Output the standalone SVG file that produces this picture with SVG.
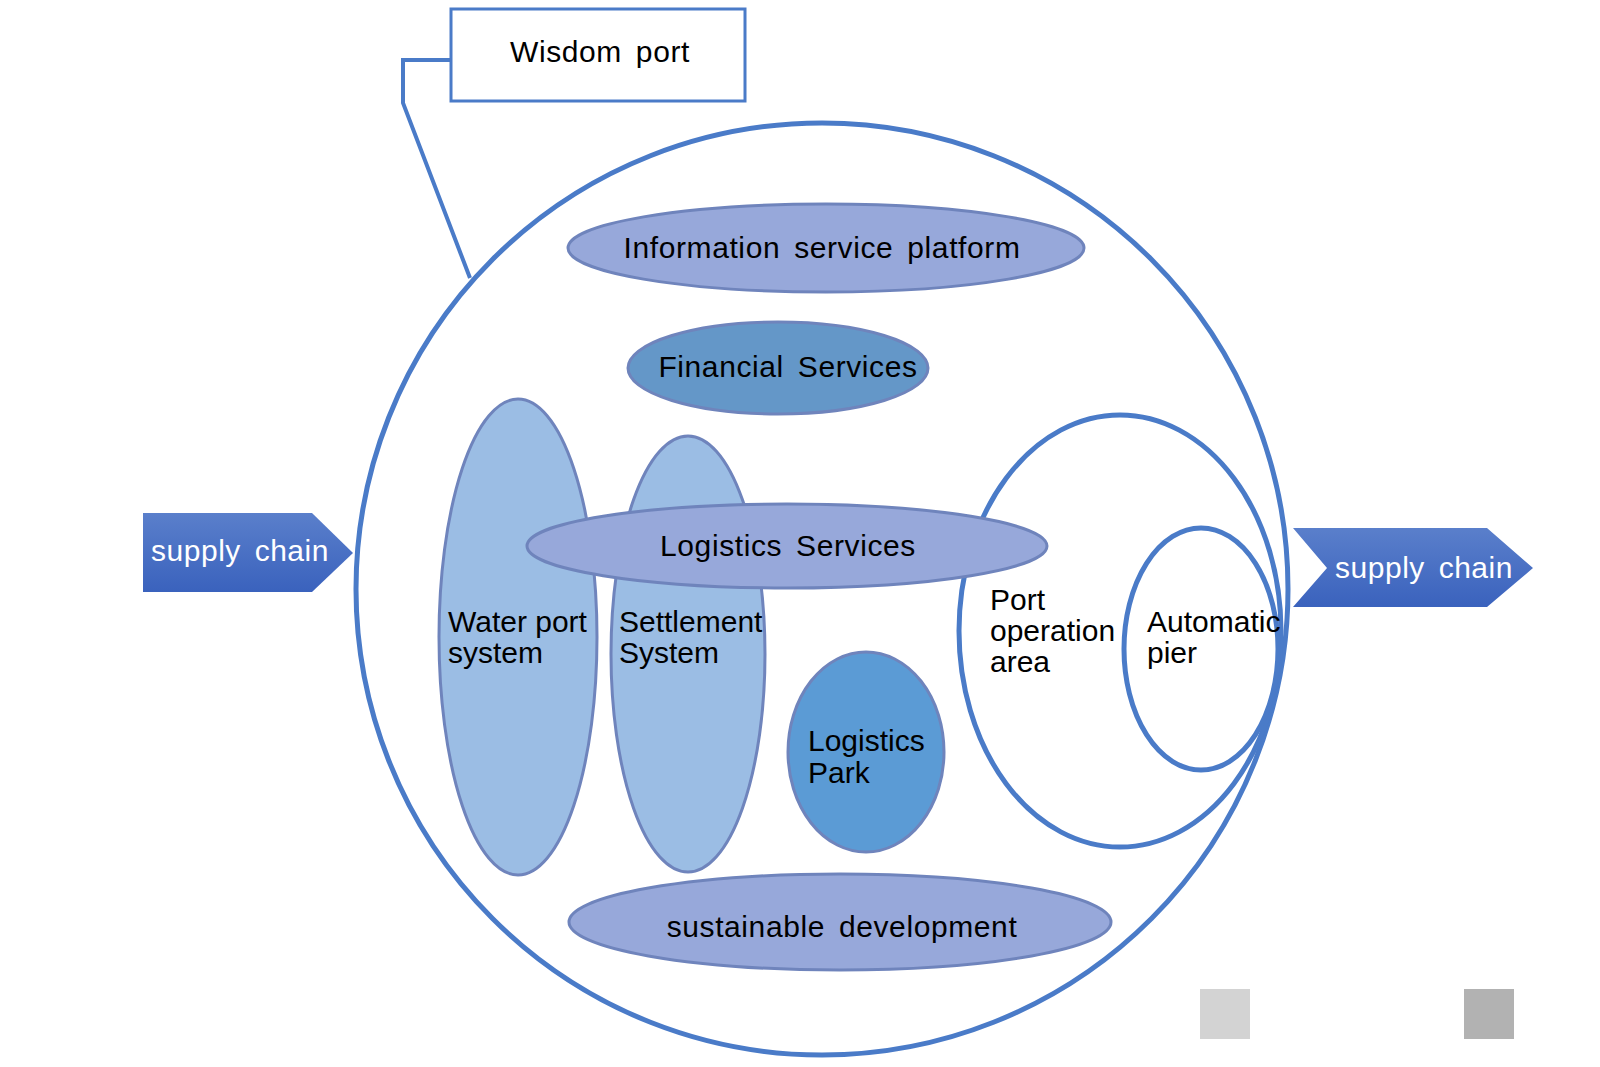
<svg xmlns="http://www.w3.org/2000/svg" width="1600" height="1067" viewBox="0 0 1600 1067">
<defs>
<linearGradient id="arrowGrad" x1="0" y1="0" x2="0" y2="1">
<stop offset="0" stop-color="#5A7FCB"/>
<stop offset="1" stop-color="#3A62BD"/>
</linearGradient>
<style>
.t{font-family:"Liberation Sans",Arial,sans-serif;font-size:30px;fill:#000}
.sp{letter-spacing:0.6px;word-spacing:5px}
.tw{font-family:"Liberation Sans",Arial,sans-serif;font-size:30px;fill:#fff;letter-spacing:0.5px;word-spacing:5px}
.big{fill:#fff;stroke:#4A7BC8;stroke-width:5}
.ring{fill:none;stroke:#4A7BC8;stroke-width:5}
.lav{fill:#97A8DA;stroke:#6F84BC;stroke-width:3}
.lb{fill:#9BBDE4;stroke:#6F84BC;stroke-width:3}
.fin{fill:#6497C8;stroke:#6F84BC;stroke-width:3}
.park{fill:#5B9BD5;stroke:#6F84BC;stroke-width:3}
.arrow{fill:url(#arrowGrad)}
</style>
</defs>
<rect width="1600" height="1067" fill="#fff"/>
<g id="connectors">
<polyline points="450,60 403,60 403,103 470,278" fill="none" stroke="#4A7BC8" stroke-width="4"/>
</g>
<g id="wisdom-port">
<rect x="451" y="9" width="294" height="92" fill="#fff" stroke="#4A7BC8" stroke-width="3"/>
<text class="t sp" x="600" y="62" text-anchor="middle">Wisdom port</text>
</g>
<g id="port-circle">
<circle class="big" cx="822" cy="589" r="466"/>
</g>
<g id="info-platform">
<ellipse class="lav" cx="826" cy="248" rx="258" ry="44"/>
<text class="t sp" x="822" y="258" text-anchor="middle">Information service platform</text>
</g>
<g id="financial">
<ellipse class="fin" cx="778" cy="368" rx="150" ry="46"/>
<text class="t sp" x="788" y="377" text-anchor="middle">Financial Services</text>
</g>
<g id="water-port">
<ellipse class="lb" cx="518" cy="637" rx="79" ry="238"/>
<text class="t" x="448" y="632">Water port</text>
<text class="t" x="448" y="663">system</text>
</g>
<g id="settlement">
<ellipse class="lb" cx="688" cy="654" rx="77" ry="218"/>
<text class="t" x="619" y="632">Settlement</text>
<text class="t" x="619" y="663">System</text>
</g>
<g id="port-operation">
<ellipse class="ring" cx="1120" cy="631" rx="161" ry="216"/>
<text class="t" x="990" y="610">Port</text>
<text class="t" x="990" y="641">operation</text>
<text class="t" x="990" y="672">area</text>
</g>
<g id="automatic-pier">
<ellipse class="ring" cx="1201" cy="649" rx="77" ry="121"/>
<text class="t" x="1147" y="632">Automatic</text>
<text class="t" x="1147" y="663">pier</text>
</g>
<g id="logistics-services">
<ellipse class="lav" cx="787" cy="546" rx="260" ry="42"/>
<text class="t sp" x="788" y="556" text-anchor="middle">Logistics Services</text>
</g>
<g id="logistics-park">
<ellipse class="park" cx="866" cy="752" rx="78" ry="100"/>
<text class="t" x="808" y="751">Logistics</text>
<text class="t" x="808" y="783">Park</text>
</g>
<g id="sustainable">
<ellipse class="lav" cx="840" cy="922" rx="271" ry="48"/>
<text class="t sp" x="842" y="937" text-anchor="middle">sustainable development</text>
</g>
<g id="supply-chain-left">
<polygon class="arrow" points="143,513 312,513 353,553 312,592 143,592"/>
<text class="tw" x="240" y="561" text-anchor="middle">supply chain</text>
</g>
<g id="supply-chain-right">
<polygon class="arrow" points="1293,528 1487,528 1533,568 1487,607 1293,607 1327,568"/>
<text class="tw" x="1424" y="578" text-anchor="middle">supply chain</text>
</g>
<g id="legend">
<rect x="1200" y="989" width="50" height="50" fill="#D3D3D3"/>
<rect x="1464" y="989" width="50" height="50" fill="#B2B2B2"/>
</g>
</svg>
